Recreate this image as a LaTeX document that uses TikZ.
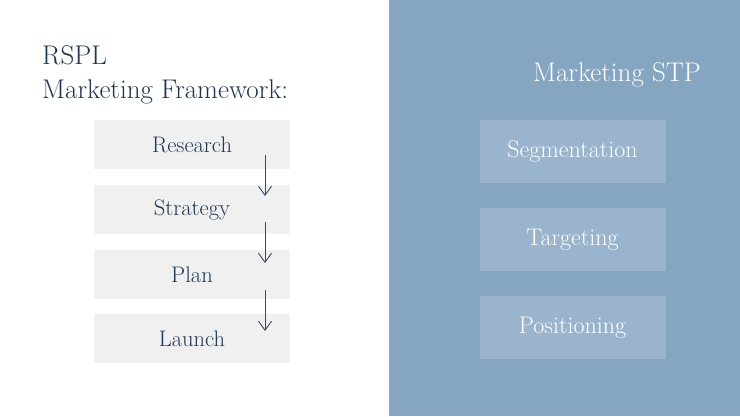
\documentclass[tikz,border=0pt]{standalone}
\usetikzlibrary{arrows.meta}
\definecolor{navy}{HTML}{1F3550}
\definecolor{panel}{HTML}{85A5C1}
\definecolor{stpbox}{HTML}{9AB4CD}
\definecolor{lightbox}{HTML}{F0F0F0}
\definecolor{arrowc}{HTML}{3A4A5C}
\tikzset{
  stepbox/.style={fill=lightbox, draw=none, minimum width=196pt, minimum height=49pt, inner sep=0pt, text=navy, font=\fontsize{22.5}{26}\selectfont},
  stpnode/.style={fill=stpbox, draw=none, minimum width=186pt, minimum height=63pt, inner sep=0pt, text=white, font=\fontsize{24}{28}\selectfont},
  titletext/.style={inner sep=0pt, font=\fontsize{27}{31}\selectfont},
  flow/.style={draw=arrowc, line width=0.9pt, -{Straight Barb[length=9pt,width=13pt]}}
}
\begin{document}
\begin{tikzpicture}[x=1pt,y=-1pt]
\useasboundingbox (0,0) rectangle (740,416);
\fill[white] (0,0) rectangle (389,416);
\fill[panel] (389,0) rectangle (740,416);
\node[titletext, anchor=base west, text=navy] (t1) at (42,64) {RSPL};
\node[titletext, anchor=base west, text=navy] (t2) at (42,98) {Marketing Framework:};
\node[stepbox] (r) at (192,144.5) {Research};
\node[stepbox] (s) at (192,209.5) {Strategy};
\node[stepbox] (p) at (192,274.5) {Plan};
\node[stepbox] (l) at (192,338.5) {Launch};
\coordinate (a1s) at (265,155);
\coordinate (a1e) at (265,196);
\coordinate (a2s) at (265,222);
\coordinate (a2e) at (265,263);
\coordinate (a3s) at (265,290);
\coordinate (a3e) at (265,331);
\draw[flow] (a1s) -- (a1e);
\draw[flow] (a2s) -- (a2e);
\draw[flow] (a3s) -- (a3e);
\node[titletext, anchor=base, text=white] (stp) at (617,81) {Marketing STP};
\node[stpnode] (seg) at (572.5,151.5) {Segmentation};
\node[stpnode] (tar) at (572.5,239.5) {\raisebox{-2pt}{Targeting}};
\node[stpnode] (pos) at (572.5,327.5) {Positioning};
\end{tikzpicture}
\end{document}
